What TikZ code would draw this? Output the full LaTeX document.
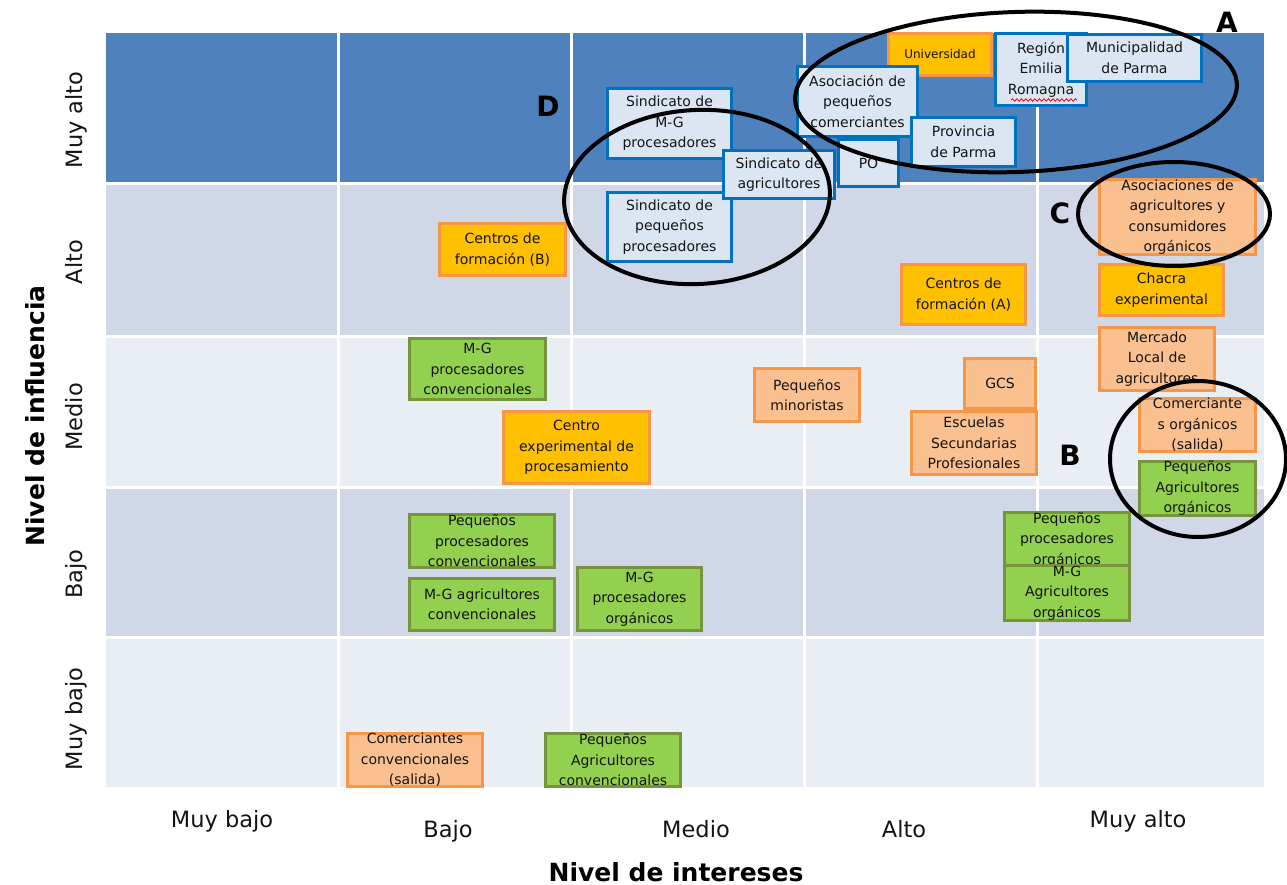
\documentclass[tikz,border=0pt]{standalone}
\usepackage{fontspec}
\setmainfont{DejaVu Sans}
\usetikzlibrary{decorations.pathmorphing}
\definecolor{rowdark}{HTML}{4F81BD}
\definecolor{rowmid}{HTML}{D0D8E8}
\definecolor{rowlight}{HTML}{E9EDF4}
\definecolor{bfill}{HTML}{DCE6F2}
\definecolor{bline}{HTML}{0070C0}
\definecolor{goldfill}{HTML}{FFC000}
\definecolor{orline}{HTML}{F79646}
\definecolor{peachfill}{HTML}{FAC090}
\definecolor{grfill}{HTML}{92D050}
\definecolor{grline}{HTML}{77933C}
\definecolor{txt}{HTML}{141414}
\newcommand\boxfont{\fontsize{14}{20.5}\selectfont}
\newcommand\smallboxfont{\fontsize{12}{14}\selectfont}
\newcommand\tickfont{\fontsize{22.5}{25}\selectfont}
\newcommand\titlefont{\fontsize{25}{29}\selectfont\bfseries}
\newcommand\letterfont{\fontsize{28}{32}\selectfont\bfseries}
\begin{document}
\begin{tikzpicture}[x=1pt,y=-1pt,
  stkbase/.style={rectangle, line width=3pt, inner sep=0pt, align=center, font=\boxfont, text=txt},
  bluebox/.style={stkbase, fill=bfill, draw=bline},
  goldbox/.style={stkbase, fill=goldfill, draw=orline},
  peachbox/.style={stkbase, fill=peachfill, draw=orline},
  greenbox/.style={stkbase, fill=grfill, draw=grline},
  ring/.style={draw=black, line width=4pt},
  lettr/.style={font=\letterfont, text=black, inner sep=0pt},
  tick/.style={font=\tickfont, text=txt, inner sep=0pt, anchor=base},
  axtitle/.style={font=\titlefont, text=black, inner sep=0pt},
  gridline/.style={draw=white, line width=3pt}
]
\useasboundingbox (0,0) rectangle (1287,885);
\fill[white] (0,0) rectangle (1287,885);

% grid cells
\fill[rowdark]  (106,33)  rectangle (1264,184);
\fill[rowmid]   (106,184) rectangle (1264,336);
\fill[rowlight] (106,336) rectangle (1264,487);
\fill[rowmid]   (106,487) rectangle (1264,637);
\fill[rowlight] (106,637) rectangle (1264,787);
\foreach \gx in {338,571,804,1037} \draw[gridline] (\gx,33) -- (\gx,787);
\foreach \gy in {184,336,487,637} \draw[gridline] (106,\gy) -- (1264,\gy);

% axis tick labels
\node[tick, rotate=90] (ymuyalto) at (82,120) {Muy alto};
\node[tick, rotate=90] (yalto) at (82,262) {Alto};
\node[tick, rotate=90] (ymedio) at (82,417) {Medio};
\node[tick, rotate=90] (ybajo) at (82,574) {Bajo};
\node[tick, rotate=90] (ymuybajo) at (82,719) {Muy bajo};
\node[tick] (xmuybajo) at (222,827) {Muy bajo};
\node[tick] (xbajo) at (448,837) {Bajo};
\node[tick] (xmedio) at (696,837) {Medio};
\node[tick] (xalto) at (904,837) {Alto};
\node[tick] (xmuyalto) at (1138,827) {Muy alto};
\node[axtitle, rotate=90, anchor=base] (ytitle) at (44,416) {Nivel de influencia};
\node[axtitle] (xtitle) at (676,872) {Nivel de intereses};

% Muy alto row boxes
\node[goldbox, font=\smallboxfont, minimum width=103, minimum height=42] (univ) at (940,54.5) {Universidad};
\node[bluebox, minimum width=91, minimum height=72] (region) at (1041,69.5) {Región\\Emilia\\Romagna};
\draw[red, line width=0.8pt, decorate, decoration={snake, amplitude=1.3pt, segment length=4.5pt}] (1011,100) -- (1077,100);
\node[bluebox, minimum width=134, minimum height=47] (muni) at (1134.5,58) {Municipalidad\\de Parma};
\node[bluebox, minimum width=60, minimum height=47] (po) at (868.5,163) {PO};
\node[bluebox, minimum width=120, minimum height=70] (asoc) at (857.5,101.5) {Asociación de\\pequeños\\comerciantes};
\node[bluebox, minimum width=104, minimum height=49] (prov) at (963.5,142) {Provincia\\de Parma};
\node[bluebox, minimum width=124, minimum height=70] (smgp) at (669.5,123.5) {Sindicato de\\M-G\\procesadores};
\node[bluebox, minimum width=124, minimum height=69] (spp) at (669.5,227) {Sindicato de\\pequeños\\procesadores};
\node[bluebox, minimum width=111, minimum height=48] (sagr) at (779,174.5) {Sindicato de\\agricultores};

% gold boxes
\node[goldbox, minimum width=126, minimum height=52] (cfb) at (502.5,249.5) {Centros de\\formación (B)};
\node[goldbox, minimum width=124, minimum height=60] (cfa) at (963.5,294.5) {Centros de\\formación (A)};
\node[goldbox, minimum width=124, minimum height=51] (chacra) at (1161.5,290) {Chacra\\experimental};
\node[goldbox, minimum width=146, minimum height=72] (cexp) at (576.5,447.5) {Centro\\experimental de\\procesamiento};

% peach boxes
\node[peachbox, minimum width=156, minimum height=75] (asagr) at (1177.5,217) {Asociaciones de\\agricultores y\\consumidores\\orgánicos};
\node[peachbox, minimum width=115, minimum height=63] (merc) at (1157,359) {Mercado\\Local de\\agricultores};
\node[peachbox, minimum width=105, minimum height=53] (pmin) at (807,395) {Pequeños\\minoristas};
\node[peachbox, minimum width=71, minimum height=50] (gcs) at (1000,383.5) {GCS};
\node[peachbox, minimum width=125, minimum height=63] (esc) at (974,443) {Escuelas\\Secundarias\\Profesionales};
\node[peachbox, minimum width=116, minimum height=51] (comorg) at (1197.5,425) {Comerciante\\s orgánicos\\(salida)};
\node[peachbox, minimum width=135, minimum height=51] (ccs) at (415,760) {Comerciantes\\convencionales\\(salida)};

% green boxes
\node[greenbox, minimum width=136, minimum height=61] (mgpc) at (477.5,369) {M-G\\procesadores\\convencionales};
\node[greenbox, minimum width=116, minimum height=50] (pao) at (1197.5,488.5) {Pequeños\\Agricultores\\orgánicos};
\node[greenbox, minimum width=145, minimum height=51] (ppc) at (482,541) {Pequeños\\procesadores\\convencionales};
\node[greenbox, minimum width=145, minimum height=52] (mgac) at (482,604.5) {M-G agricultores\\convencionales};
\node[greenbox, minimum width=124, minimum height=63] (mgpo) at (639.5,599) {M-G\\procesadores\\orgánicos};
\node[greenbox, minimum width=125, minimum height=47] (ppo) at (1067,540) {Pequeños\\procesadores\\orgánicos};
\node[greenbox, minimum width=125, minimum height=49] (mgao) at (1067,593) {M-G\\Agricultores\\orgánicos};
\node[greenbox, minimum width=135, minimum height=51] (pac) at (613,760) {Pequeños\\Agricultores\\convencionales};

% groupings
\draw[ring, rotate around={2:(1016,92)}] (1016,92) ellipse [x radius=221, y radius=80];
\draw[ring, rotate around={3:(697,197)}] (697,197) ellipse [x radius=133, y radius=87];
\draw[ring] (1174,214) ellipse [x radius=96, y radius=52];
\draw[ring] (1198,459) ellipse [x radius=88, y radius=78];

\node[lettr] (la) at (1227,22) {A};
\node[lettr] (ld) at (548,106) {D};
\node[lettr] (lc) at (1060,213) {C};
\node[lettr] (lb) at (1070,455) {B};
\end{tikzpicture}
\end{document}
